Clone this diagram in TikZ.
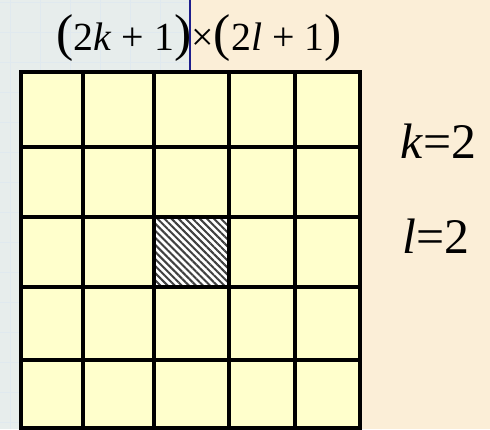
\documentclass[tikz,border=0pt]{standalone}
\usepackage{fontspec}
\setmainfont{Liberation Serif}
\usetikzlibrary{patterns.meta}
\definecolor{gBlue}{RGB}{231,237,236}
\definecolor{gFaint}{RGB}{224,233,239}
\definecolor{gBeige}{RGB}{251,238,215}
\definecolor{gCell}{RGB}{255,255,204}
\definecolor{gNavy}{RGB}{30,30,140}
\newcommand{\bigparen}[1]{{\fontsize{52}{52}\selectfont #1}}
\begin{document}
\begin{tikzpicture}[
			x=1bp,y=-1bp,
			gridline/.style={line width=4.5bp,black,line cap=rect},
			lbl/.style={inner sep=0pt,anchor=base west,font=\fontsize{50}{50}\selectfont}
			]
			\useasboundingbox (0,0) rectangle (490,429);
			% background
			\fill[gBeige] (0,0) rectangle (490,429);
			\fill[gBlue] (0,0) rectangle (190,429);
			\foreach \y in {2,32,...,422} \draw[gFaint,line width=0.5bp] (0,\y) -- (190,\y);
			\foreach \x in {10,40,...,190} \draw[gFaint,line width=0.5bp] (\x,0) -- (\x,429);
			\draw[gNavy,line width=1.5bp] (190,0) -- (190,72);
			% cells
			\fill[gCell] (21,72) rectangle (360,428);
			\fill[white] (154,217) rectangle (229,287);
			\fill[pattern={Lines[angle=-45,distance=5bp,line width=2bp]},pattern color=black!75] (154,217) rectangle (229,287);
			\foreach \x in {21,83,154,229,295,360} \draw[gridline] (\x,72) -- (\x,428);
			\foreach \y in {72,147,217,287,360,428} \draw[gridline] (21,\y) -- (360,\y);
			% labels
			\node[inner sep=0pt,anchor=base,font=\fontsize{40}{40}\selectfont] (size) at (199,50)
				{\bigparen{(}2\textit{k} + 1\bigparen{)}×\bigparen{(}2\textit{l} + 1\bigparen{)}};
			\node[lbl] (kval) at (400,158) {\textit{k}=2};
			\node[lbl] (lval) at (402,253) {\textit{l}=2};
		\end{tikzpicture}
\end{document}
